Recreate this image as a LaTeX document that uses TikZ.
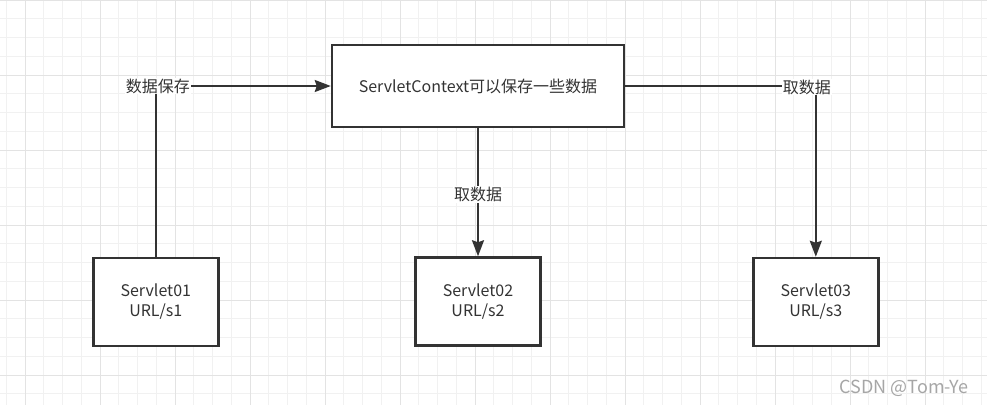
\documentclass[tikz,border=0pt]{standalone}
\usepackage{fontspec}
\newfontfamily\cjk{Noto Sans CJK SC}
\usetikzlibrary{arrows.meta, positioning, calc}

\definecolor{inkgray}{HTML}{333333}
\definecolor{gridminor}{HTML}{F1F1F1}
\definecolor{gridmajor}{HTML}{E3E3E3}
\definecolor{markgray}{HTML}{A6A6A6}

\begin{document}
\begin{tikzpicture}[
		x=1pt, y=-1pt,
		% Box styles
		servletbox/.style={draw=inkgray, line width=2.5pt, fill=white, minimum width=125pt, minimum height=88pt, align=center, text=inkgray, font=\cjk\fontsize{16}{20}\selectfont},
		ctxbox/.style={servletbox, minimum width=292pt, minimum height=82pt},
		% Connector styles
		flow/.style={draw=inkgray, line width=2pt, -{Stealth[length=16pt, width=12pt, inset=2pt]}},
		flowlabel/.style={fill=white, inner sep=1pt, text=inkgray, font=\cjk\fontsize{16}{20}\selectfont}
		]
		
		% --- BACKGROUND GRID ---
		\useasboundingbox (0,0) rectangle (987,405);
		\fill[white] (0,0) rectangle (987,405);
		\foreach \i in {0,...,52} {
			\draw[gridminor, line width=1pt] ({6.25+18.75*\i},0) -- ({6.25+18.75*\i},405);
		}
		\foreach \j in {0,...,21} {
			\draw[gridminor, line width=1pt] (0,{18.75*\j}) -- (987,{18.75*\j});
		}
		\foreach \i in {0,...,13} {
			\draw[gridmajor, line width=1pt] ({25+75*\i},0) -- ({25+75*\i},405);
		}
		\foreach \j in {0,...,5} {
			\draw[gridmajor, line width=1pt] (0,{75*\j}) -- (987,{75*\j});
		}
		
		% --- BOXES ---
		\node[ctxbox] (ctx) at (478,86) {ServletContext可以保存一些数据};
		\node[servletbox] (s1) at (155.8,302) {Servlet01\\URL/s1};
		\node[servletbox] (s2) at (478,301.5) {Servlet02\\URL/s2};
		\node[servletbox] (s3) at (815.8,302) {Servlet03\\URL/s3};
		
		% --- CONNECTIONS ---
		\draw[flow] (s1.north) |- (ctx.west) node[pos=0.5, flowlabel, xshift=2pt] (lsave) {数据保存};
		\draw[flow] (ctx.south) -- (s2.north) node[midway, flowlabel, yshift=-2pt] (lget2) {取数据};
		\draw[flow] (ctx.east) -| (s3.north) node[pos=0.5, flowlabel, xshift=-9pt, yshift=-1pt] (lget3) {取数据};
		
		% Watermark
		\node[text=markgray, font=\cjk\fontsize{18}{20}\selectfont] (mark) at (904,388) {CSDN @Tom-Ye};
		
	\end{tikzpicture}
\end{document}
